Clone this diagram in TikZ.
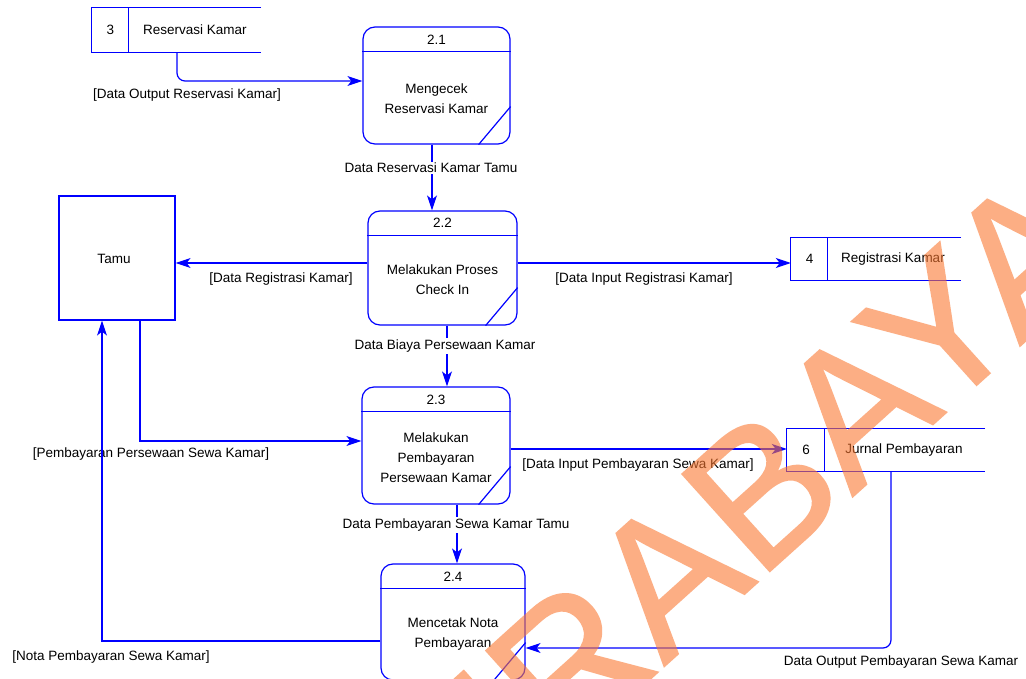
\documentclass[tikz,border=0pt]{standalone}
\usepackage{fontspec}
\setmainfont{Liberation Sans}
\newfontfamily\wmfont[FakeBold=1]{Liberation Sans}
\usetikzlibrary{arrows.meta}
\definecolor{dfdblue}{RGB}{0,0,255}
\definecolor{wmorange}{RGB}{250,120,50}
\begin{document}
\begin{tikzpicture}[x=1pt,y=-1pt,
  every node/.style={font=\fontsize{13.5}{20}\selectfont, text=black, inner sep=0pt},
  ln/.style={draw=dfdblue, line width=1.2pt},
  arr/.style={ln, -{Stealth[length=15pt,width=10pt,inset=4pt]}},
  proc/.style={draw=dfdblue, line width=1.2pt, rounded corners=12pt, inner sep=0pt},
  ent/.style={draw=dfdblue, line width=1.2pt, inner sep=0pt},
  store/.style={inner sep=0pt},
  body/.style={align=center},
  lab/.style={inner sep=1pt},
  wlab/.style={fill=white, inner sep=1.5pt},
]
\useasboundingbox (0,0) rectangle (1026,679);
\fill[white] (0,0) rectangle (1026,679);

% ---------- processes ----------
\node[proc, minimum width=147, minimum height=117] (p21) at (436.5,85.5) {};
\draw[ln] ([yshift=-25pt]p21.north west) -- ([yshift=-25pt]p21.north east);
\draw[ln] ([yshift=38pt]p21.south east) -- ([xshift=-32pt]p21.south east);
\node (p21n) at (436.5,40) {2.1};
\node[body] (p21t) at (436.5,98.5) {Mengecek\\Reservasi Kamar};

\node[proc, minimum width=149, minimum height=114] (p22) at (442.5,268) {};
\draw[ln] ([yshift=-25pt]p22.north west) -- ([yshift=-25pt]p22.north east);
\draw[ln] ([yshift=38pt]p22.south east) -- ([xshift=-32pt]p22.south east);
\node (p22n) at (442.5,223) {2.2};
\node[body] (p22t) at (442.5,280) {Melakukan Proses\\Check In};

\node[proc, minimum width=148, minimum height=117] (p23) at (436,445.5) {};
\draw[ln] ([yshift=-25pt]p23.north west) -- ([yshift=-25pt]p23.north east);
\draw[ln] ([yshift=38pt]p23.south east) -- ([xshift=-32pt]p23.south east);
\node (p23n) at (436,400) {2.3};
\node[body] (p23t) at (436,458) {Melakukan\\Pembayaran\\Persewaan Kamar};

\node[proc, minimum width=144, minimum height=116] (p24) at (453,622) {};
\draw[ln] ([yshift=-25pt]p24.north west) -- ([yshift=-25pt]p24.north east);
\draw[ln] ([yshift=38pt]p24.south east) -- ([xshift=-32pt]p24.south east);
\node (p24n) at (453,577) {2.4};
\node[body] (p24t) at (453,634) {Mencetak Nota\\Pembayaran};

% ---------- external entity ----------
\node[ent, minimum width=116, minimum height=124] (tamu) at (117,258) {};
\node (tamut) at (114,259) {Tamu};

% ---------- data stores ----------
\node[store, minimum width=169, minimum height=44] (st3) at (176.5,30) {};
\draw[ln] (st3.north east) -- (st3.north west) -- (st3.south west) -- (st3.south east);
\draw[ln] ([xshift=37pt]st3.north west) -- ([xshift=37pt]st3.south west);
\node (st3n) at (110.5,30) {3};
\node (st3t) at (195,30) {Reservasi Kamar};

\node[store, minimum width=170, minimum height=42] (st4) at (876,259) {};
\draw[ln] (st4.north east) -- (st4.north west) -- (st4.south west) -- (st4.south east);
\draw[ln] ([xshift=37pt]st4.north west) -- ([xshift=37pt]st4.south west);
\node (st4n) at (809.5,259) {4};
\node (st4t) at (893,259) {Registrasi Kamar};

\node[store, minimum width=198, minimum height=42] (st6) at (886,450) {};
\draw[ln] (st6.north east) -- (st6.north west) -- (st6.south west) -- (st6.south east);
\draw[ln] ([xshift=38pt]st6.north west) -- ([xshift=38pt]st6.south west);
\node (st6n) at (806,450) {6};
\node (st6t) at (904,450) {Jurnal Pembayaran};

% ---------- flows ----------
\draw[arr, rounded corners=8pt] ([xshift=0.5pt]st3.south) |- ([yshift=4.5pt]p21.west);
\node[lab] (l1) at (187,95) {[Data Output Reservasi Kamar]};

\draw[arr] ([xshift=-4.5pt]p21.south) -- ([xshift=-4.5pt]p21.south |- p22.north);
\node[wlab] (l2) at (431,168) {Data Reservasi Kamar Tamu};

\draw[arr] ([yshift=5pt]p22.west) -- ([yshift=5pt]p22.west -| tamu.east);
\node[lab] (l3) at (281,279) {[Data Registrasi Kamar]};

\draw[arr] ([yshift=5pt]p22.east) -- ([yshift=5pt]p22.east -| st4.west);
\node[lab] (l4) at (644,279) {[Data Input Registrasi Kamar]};

\draw[arr] ([xshift=4.5pt]p22.south) -- ([xshift=4.5pt]p22.south |- p23.north);
\node[wlab] (l5) at (445,346) {Data Biaya Persewaan Kamar};

\draw[arr] ([xshift=23pt]tamu.south) |- ([yshift=4.5pt]p23.west);
\node[lab] (l6) at (151,454) {[Pembayaran Persewaan Sewa Kamar]};

\draw[arr] ([yshift=-3.5pt]p23.east) -- ([yshift=-3.5pt]p23.east -| st6.west);
\node[lab] (l7) at (638,465) {[Data Input Pembayaran Sewa Kamar]};

\draw[arr] ([xshift=21pt]p23.south) -- ([xshift=21pt]p23.south |- p24.north);
\node[wlab] (l8) at (456,525) {Data Pembayaran Sewa Kamar Tamu};

\draw[arr, rounded corners=8pt] ([xshift=5pt]st6.south) |- ([yshift=-26pt]p24.east);
\node[lab] (l9) at (901,662) {Data Output Pembayaran Sewa Kamar};

\draw[arr] ([yshift=-19pt]p24.west) -| ([xshift=-15pt]tamu.south);
\node[lab] (l10) at (111,657) {[Nota Pembayaran Sewa Kamar]};

% ---------- watermark ----------
\begin{scope}[transparency group, opacity=0.6]
\clip (0,0) rectangle (1026,679);
\node[rotate=42, anchor=base, text=wmorange,
      font=\wmfont\fontsize{190}{190}\selectfont] (wmark) at (740,598) {SURABAYA};
\end{scope}
\end{tikzpicture}
\end{document}
